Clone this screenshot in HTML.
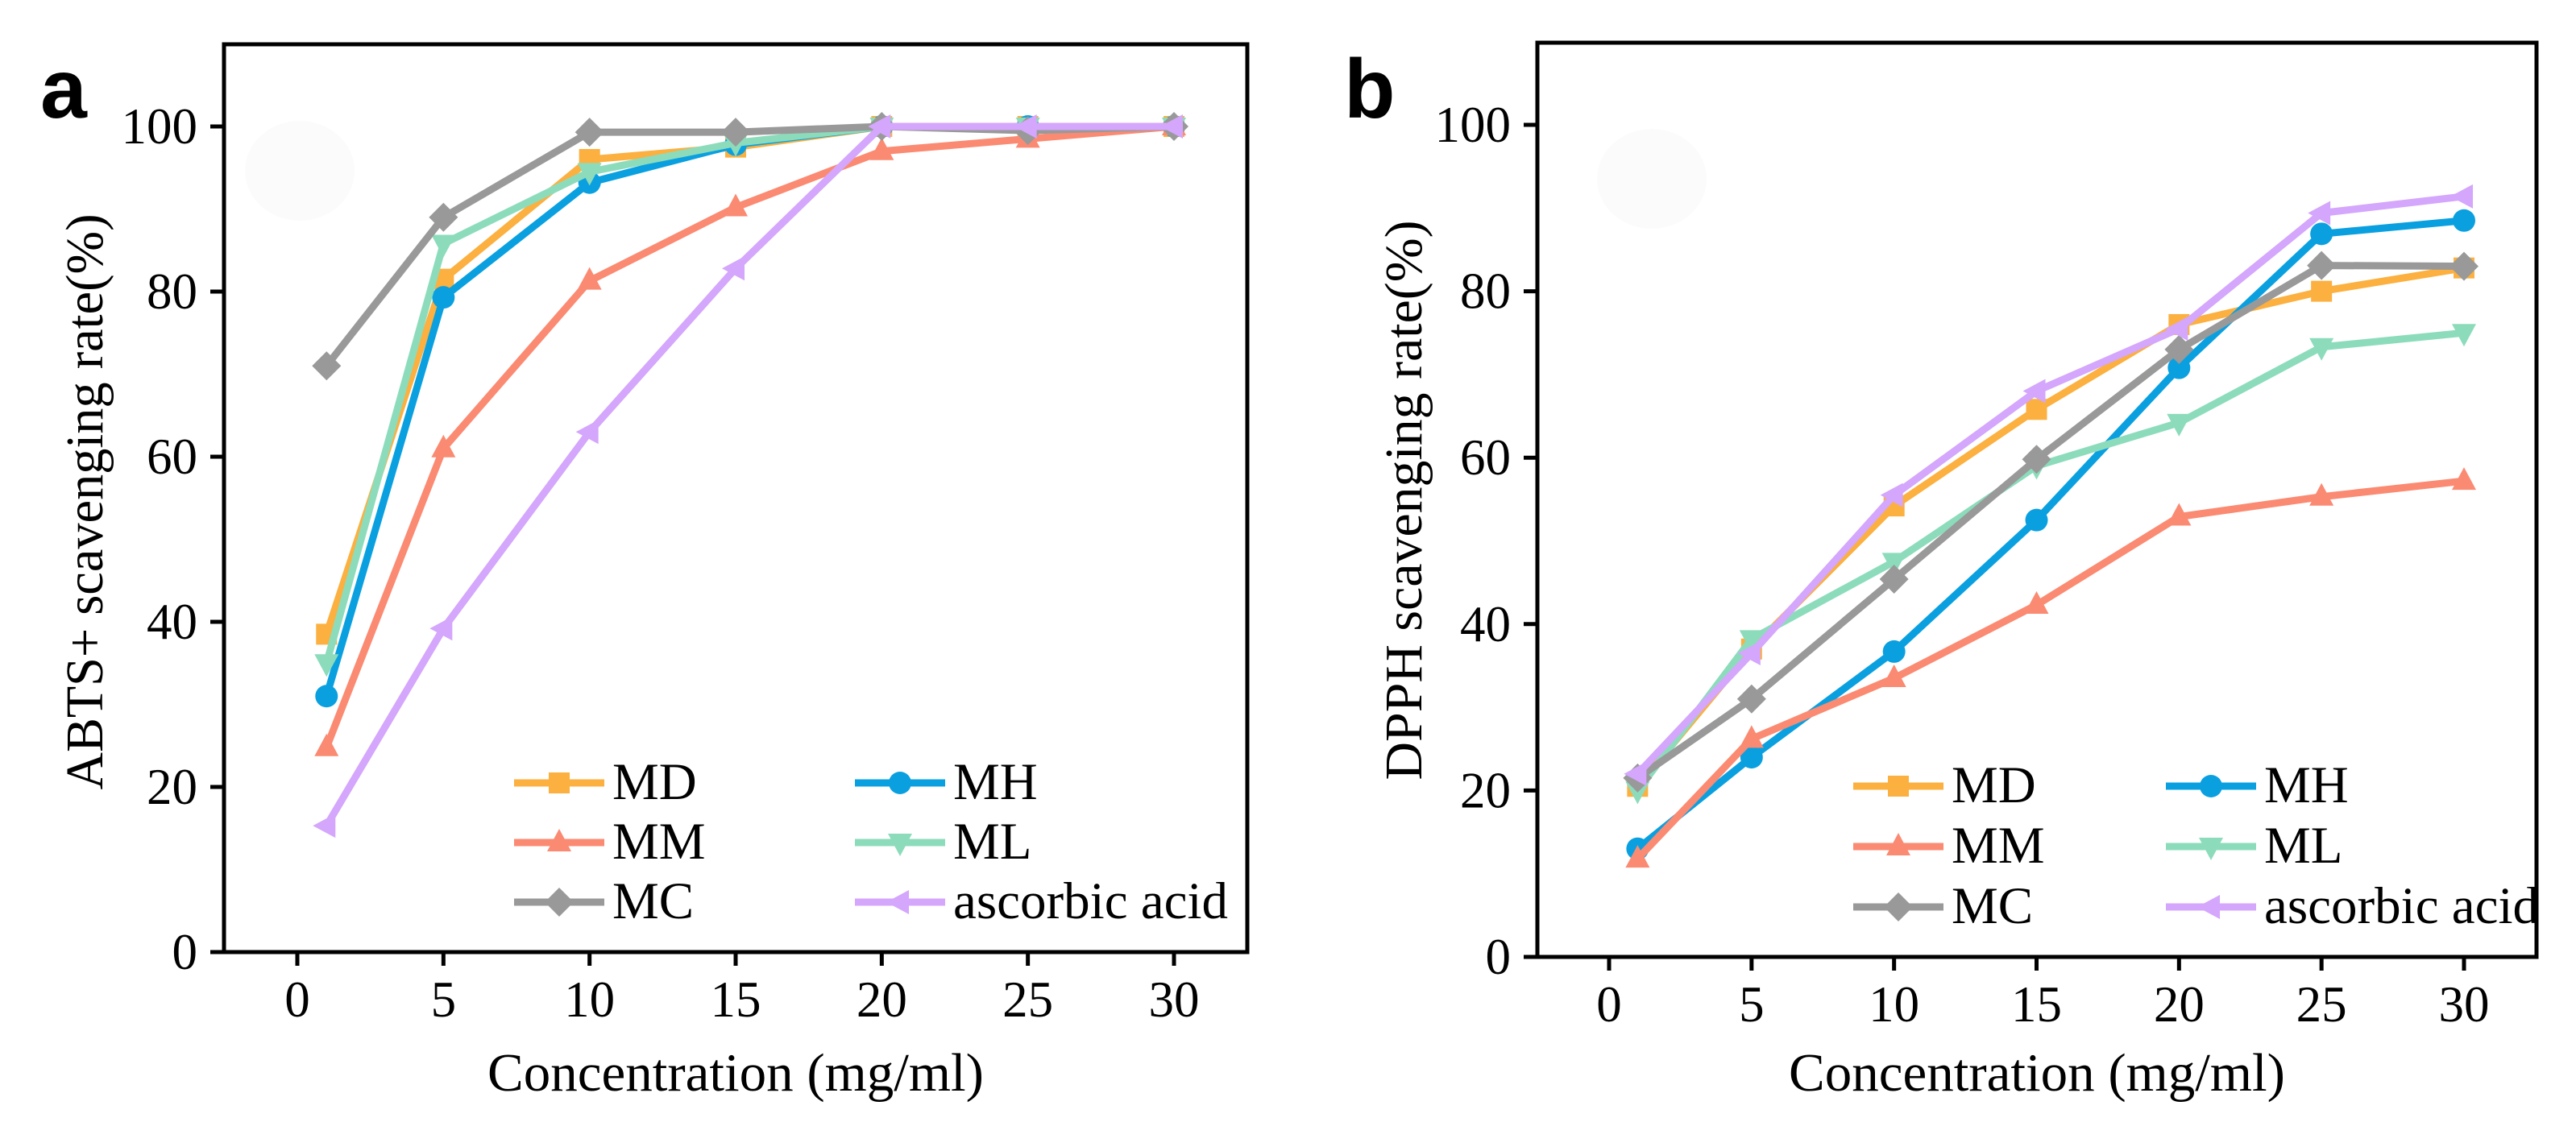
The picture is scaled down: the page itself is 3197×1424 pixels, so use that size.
<!DOCTYPE html>
<html><head><meta charset="utf-8"><style>
html,body{margin:0;padding:0;background:#fff;}
svg{display:block;}
text{font-family:"Liberation Serif",serif;fill:#000;}
</style></head><body>
<svg id="fig" width="3197" height="1424" viewBox="0 0 3197 1424" xmlns="http://www.w3.org/2000/svg"></svg>
<script>
const concentrations = [1, 5, 10, 15, 20, 25, 30];
const xTicks = [0, 5, 10, 15, 20, 25, 30];
const yTicks = [0, 20, 40, 60, 80, 100];
const seriesNames = ["MD", "MH", "MM", "ML", "MC", "ascorbic acid"];
const abtsMD = [38.5, 81.5, 96, 97.5, 100, 100, 100];
const abtsMH = [31, 79.3, 93.2, 97.8, 100, 100, 100];
const abtsMM = [24.8, 61, 81.3, 90.2, 97, 98.5, 100];
const abtsML = [35, 85.8, 94.5, 98, 100, 100, 100];
const abtsMC = [71, 89, 99.3, 99.3, 100, 99.5, 100];
const abtsAA = [15.3, 39.2, 63, 82.8, 100, 100, 100];
const dpphMD = [20.5, 37, 54.2, 65.8, 76, 80, 82.8];
const dpphMH = [13, 24, 36.7, 52.5, 70.8, 86.9, 88.5];
const dpphMM = [11.8, 26.2, 33.5, 42.3, 52.9, 55.3, 57.2];
const dpphML = [20, 38.2, 47.5, 59, 64.2, 73.3, 75];
const dpphMC = [21.5, 31, 45.4, 59.8, 73, 83.1, 83];
const dpphAA = [22, 36.5, 55.5, 68, 75.5, 89.4, 91.4];

const colors = ["#fbb040", "#0aa0e0", "#fb8a72", "#8cdcbc", "#999999", "#d4a6fc"];
const markers = ["square", "circle", "triangle", "tridown", "diamond", "left"];
const NS = "http://www.w3.org/2000/svg";
const svg = document.getElementById("fig");
function mk(tag, attrs, parent) {
  const e = document.createElementNS(NS, tag);
  for (const k in attrs) e.setAttribute(k, attrs[k]);
  (parent || svg).appendChild(e);
  return e;
}
function marker(g, type, x, y, c) {
  let e;
  if (type === "square") e = mk("rect", {x: x-13, y: y-13, width: 26, height: 26, fill: c}, g);
  else if (type === "circle") e = mk("circle", {cx: x, cy: y, r: 14, fill: c}, g);
  else if (type === "triangle") e = mk("polygon", {points: `${x},${y-17} ${x+15},${y+11} ${x-15},${y+11}`, fill: c}, g);
  else if (type === "tridown") e = mk("polygon", {points: `${x},${y+17} ${x+15},${y-11} ${x-15},${y-11}`, fill: c}, g);
  else if (type === "diamond") e = mk("polygon", {points: `${x},${y-18} ${x+18},${y} ${x},${y+18} ${x-18},${y}`, fill: c}, g);
  else e = mk("polygon", {points: `${x-17},${y} ${x+11},${y-15} ${x+11},${y+15}`, fill: c}, g);
  
  
}
function panel(cfg) {
  const g = mk("g", {});
  
  
  const {L, R, T, B, x0px, x30px, y0px, y100px} = cfg;
  const sx = v => x0px + (x30px - x0px) * v / 30;
  const sy = v => y0px + (y100px - y0px) * v / 100;
  const fr = mk("rect", {x: L, y: T, width: R-L, height: B-T, fill: "none", stroke: "#000", "stroke-width": 5}, g);
  
  
  xTicks.forEach(t => {
    const tk = mk("line", {x1: sx(t), x2: sx(t), y1: B, y2: B+17, stroke: "#000", "stroke-width": 5}, g);
    
    
    const lb = mk("text", {x: sx(t), y: B+80, "font-size": 63, "text-anchor": "middle"}, g);
    lb.textContent = t;
    
    
  });
  yTicks.forEach(t => {
    const tk = mk("line", {x1: L-17, x2: L, y1: sy(t), y2: sy(t), stroke: "#000", "stroke-width": 5}, g);
    
    
    const lb = mk("text", {x: L-33, y: sy(t)+21, "font-size": 63, "text-anchor": "end"}, g);
    lb.textContent = t;
    
    
  });
  const fc = mk("ellipse", {cx: cfg.blobX, cy: cfg.blobY, rx: 68, ry: 62, fill: "#fbfbfb"}, g);
  
  
  cfg.data.forEach((vals, i) => {
    const sg = mk("g", {}, g);
    
    
    const pts = vals.map((v, j) => sx(concentrations[j]) + "," + sy(v)).join(" ");
    const pl = mk("polyline", {points: pts, fill: "none", stroke: colors[i], "stroke-width": 9, "stroke-linejoin": "round"}, sg);
    
    
    vals.forEach((v, j) => marker(sg, markers[i], sx(concentrations[j]), sy(v), colors[i]));
  });
  const lg = mk("g", {}, g);
  
  
  seriesNames.forEach((n, i) => {
    const col = i % 2, row = Math.floor(i / 2);
    const lx = cfg.legX[col], ly = cfg.legY[row];
    const le = mk("g", {}, lg);
    
    
    mk("line", {x1: lx, x2: lx+112, y1: ly-20, y2: ly-20, stroke: colors[i], "stroke-width": 9}, le);
    marker(le, markers[i], lx+56, ly-20, colors[i]);
    const t = mk("text", {x: lx+122, y: ly, "font-size": 65}, le);
    t.textContent = n;
  });
  const xt = mk("text", {x: (L+R)/2, y: 1354, "font-size": 67, "text-anchor": "middle"}, g);
  xt.textContent = "Concentration (mg/ml)";
  
  
  const yt = mk("text", {x: 0, y: 0, "font-size": 66, "text-anchor": "middle", transform: `translate(${cfg.ytX},${cfg.ytY}) rotate(-90)`, textLength: cfg.ytLen, lengthAdjust: "spacingAndGlyphs"}, g);
  yt.textContent = cfg.yTitle;
  
  
  const pl = mk("text", {x: cfg.labX, y: 146, "font-size": 104, "font-weight": "bold", style: "font-family:'Liberation Sans',sans-serif"}, g);
  pl.textContent = cfg.label;
  
  
}
panel({name: "panel-a-abts", L: 278, R: 1548, T: 55, B: 1182, x0px: 369, x30px: 1457, y0px: 1182, y100px: 157,
  data: [abtsMD, abtsMH, abtsMM, abtsML, abtsMC, abtsAA], legX: [638, 1061], legY: [992, 1066, 1140],
  ytX: 127, ytY: 623, ytLen: 715, yTitle: "ABTS+ scavenging rate(%)", labX: 50, label: "a", blobX: 372, blobY: 212});
panel({name: "panel-b-dpph", L: 1908, R: 3148, T: 53, B: 1188, x0px: 1997, x30px: 3058, y0px: 1188, y100px: 155,
  data: [dpphMD, dpphMH, dpphMM, dpphML, dpphMC, dpphAA], legX: [2300, 2688], legY: [996, 1071, 1146],
  ytX: 1764, ytY: 621, ytLen: 695, yTitle: "DPPH scavenging rate(%)", labX: 1668, label: "b", blobX: 2050, blobY: 222});
</script>
</body></html>
